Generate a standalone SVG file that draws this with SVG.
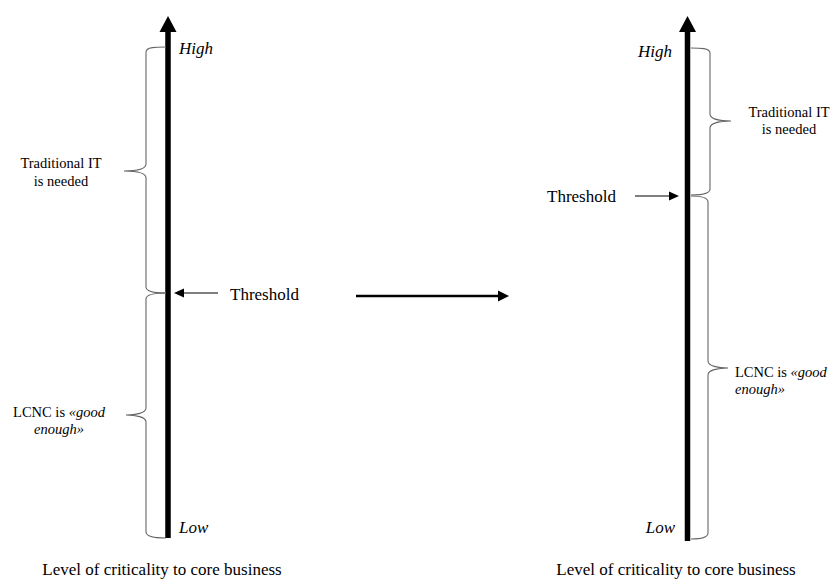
<svg xmlns="http://www.w3.org/2000/svg" width="839" height="579" viewBox="0 0 839 579">
<style>
text{font-family:"Liberation Serif","Times New Roman",serif;fill:#000}
.it{font-style:italic}
.lbl{font-size:14.5px}
.big{font-size:17px}
.brace{fill:none;stroke:#666;stroke-width:1.1}
.axis{stroke:#000;stroke-width:5.5}
.thin{stroke:#000;stroke-width:1.1}
</style>
<rect width="839" height="579" fill="#fff"/>
<g id="connectors">
  <line x1="218" y1="293" x2="183" y2="293" class="thin"/>
  <polygon points="174,293 184,288.5 184,297.5"/>
  <line x1="635" y1="196" x2="670" y2="196" class="thin"/>
  <polygon points="679,196 669,191.5 669,200.5"/>
  <line x1="356" y1="296" x2="500" y2="296" stroke="#000" stroke-width="2.5"/>
  <polygon points="509,296 498,290.5 498,301.5"/>
</g>
<g id="left-axis">
  <line x1="168" y1="30" x2="168" y2="538" class="axis"/>
  <polygon points="168,16 176.5,32 159.5,32"/>
  <text x="179" y="54" class="it big">High</text>
  <text x="179" y="533" class="it big">Low</text>
  <text x="162" y="575" class="big" text-anchor="middle">Level of criticality to core business</text>
</g>
<g id="left-traditional">
  <path class="brace" d="M166,47 C156,47 146,47 146,52 L146,164 C146,169 136,171 124,171 C136,171 146,173 146,178 L146,287 C146,292 156,293 166,293"/>
  <text x="61" y="168" class="lbl" text-anchor="middle">Traditional IT</text>
  <text x="61" y="186" class="lbl" text-anchor="middle">is needed</text>
</g>
<g id="left-lcnc">
  <path class="brace" d="M166,293 C156,293 146,294 146,299 L146,408 C146,413 136,415 126,415 C136,415 146,417 146,422 L146,532 C146,537 156,538 166,538"/>
  <text x="59" y="417" class="lbl" text-anchor="middle">LCNC is <tspan class="it">«good</tspan></text>
  <text x="59" y="434" class="lbl it" text-anchor="middle">enough»</text>
</g>
<g id="left-threshold">
  <text x="230" y="300" class="big">Threshold</text>
</g>
<g id="right-axis">
  <line x1="687.5" y1="30" x2="687.5" y2="541" class="axis"/>
  <polygon points="687.5,16 696,32 679,32"/>
  <text x="672" y="57" class="it big" text-anchor="end">High</text>
  <text x="675" y="533" class="it big" text-anchor="end">Low</text>
  <text x="676" y="575" class="big" text-anchor="middle">Level of criticality to core business</text>
</g>
<g id="right-traditional">
  <path class="brace" d="M691,48 C700,48 710,48 710,53 L710,114 C710,119 720,121 731,121 C720,121 710,123 710,128 L710,189 C710,194 700,195 691,195"/>
  <text x="789" y="117" class="lbl" text-anchor="middle">Traditional IT</text>
  <text x="789" y="134" class="lbl" text-anchor="middle">is needed</text>
</g>
<g id="right-lcnc">
  <path class="brace" d="M691,196 C700,196 708,197 708,202 L708,361 C708,366 718,368 728,368 C718,368 708,370 708,375 L708,533 C708,538 700,539 691,539"/>
  <text x="735" y="377" class="lbl">LCNC is <tspan class="it">«good</tspan></text>
  <text x="735" y="394" class="lbl it">enough»</text>
</g>
<g id="right-threshold">
  <text x="547" y="202" class="big">Threshold</text>
</g>
</svg>
